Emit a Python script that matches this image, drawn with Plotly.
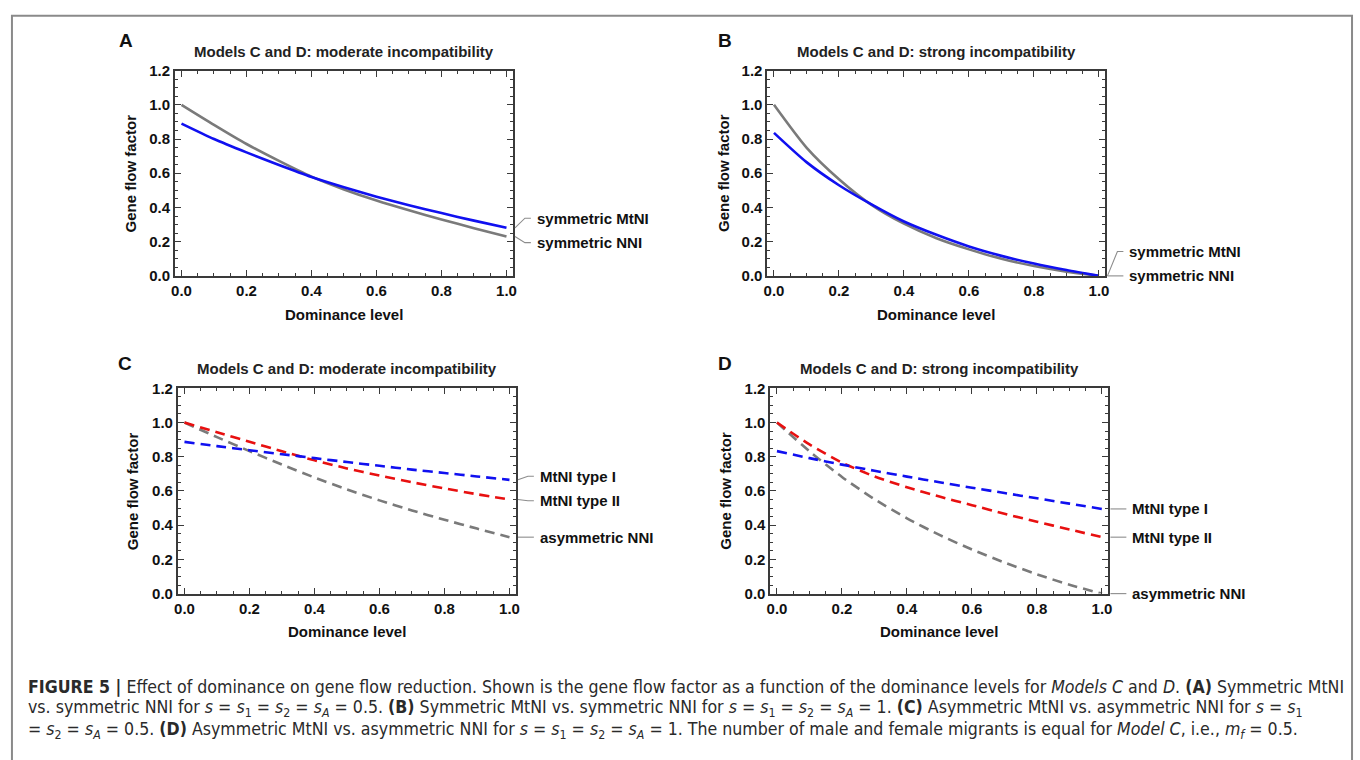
import plotly.graph_objects as go

W, H = 1360, 760

# Dominance levels (x) shared by every panel
h = [0.0, 0.1, 0.2, 0.3, 0.4, 0.5, 0.6, 0.7, 0.8, 0.9, 1.0]

# Panel A: moderate incompatibility, symmetric models
a_mtni = [0.890, 0.800, 0.722, 0.648, 0.578, 0.518, 0.463, 0.413, 0.367, 0.323, 0.281]
a_nni = [1.000, 0.883, 0.771, 0.672, 0.580, 0.505, 0.440, 0.383, 0.330, 0.279, 0.230]

# Panel B: strong incompatibility, symmetric models
b_mtni = [0.836, 0.665, 0.530, 0.418, 0.318, 0.240, 0.172, 0.117, 0.072, 0.034, 0.000]
b_nni = [1.000, 0.750, 0.565, 0.415, 0.305, 0.220, 0.155, 0.100, 0.058, 0.025, 0.000]

# Panel C: moderate incompatibility, asymmetric models
c_type1 = [0.887, 0.862, 0.838, 0.815, 0.792, 0.769, 0.747, 0.725, 0.705, 0.685, 0.665]
c_type2 = [1.000, 0.943, 0.888, 0.832, 0.779, 0.732, 0.690, 0.651, 0.615, 0.581, 0.550]
c_nni = [1.000, 0.915, 0.833, 0.754, 0.679, 0.609, 0.545, 0.486, 0.432, 0.380, 0.330]

# Panel D: strong incompatibility, asymmetric models
d_type1 = [0.833, 0.792, 0.754, 0.718, 0.684, 0.651, 0.619, 0.588, 0.557, 0.526, 0.495]
d_type2 = [1.000, 0.872, 0.766, 0.685, 0.622, 0.567, 0.517, 0.467, 0.420, 0.375, 0.330]
d_nni = [1.000, 0.832, 0.682, 0.552, 0.440, 0.343, 0.258, 0.182, 0.113, 0.052, 0.000]

x_ticks = [0.0, 0.2, 0.4, 0.6, 0.8, 1.0]
y_ticks = [0.0, 0.2, 0.4, 0.6, 0.8, 1.0, 1.2]

panel_letters = ["A", "B", "C", "D"]
panel_titles = [
    "Models C and D: moderate incompatibility",
    "Models C and D: strong incompatibility",
    "Models C and D: moderate incompatibility",
    "Models C and D: strong incompatibility",
]
x_title = "Dominance level"
y_title = "Gene flow factor"

BLUE = "#1010f0"
GRAY = "#7a7a7a"
RED = "#e81010"
FRAME = "#3a3a3a"
LEADER = "#8c8c8c"
SANS = "Liberation Sans, Arial, sans-serif"
NARROW = "Liberation Sans Narrow, DejaVu Sans Condensed, Arial Narrow, sans-serif"

XR = [-0.02, 1.02]
YR = [0.0, 1.2]

# plot frames in pixels: (left, right, top, bottom)
frames = [(172, 512, 63, 273), (768, 1108, 63, 273),
          (175, 515, 388, 598), (771, 1111, 388, 598)]
# panel letter centres in pixels
letter_pos = [(123, 32), (725, 32), (122, 363), (725, 363)]


def px(x):
    return x / W


def py(y):
    return 1 - y / H


def to_px(i, xv, yv):
    l, r, t, b = frames[i]
    X = l + (xv - XR[0]) / (XR[1] - XR[0]) * (r - l)
    Y = b - (yv - YR[0]) / (YR[1] - YR[0]) * (b - t)
    return X, Y


fig = go.Figure()

DASH = "10px,6px"
series = [
    (0, a_nni, GRAY, "solid", "symmetric NNI"),
    (0, a_mtni, BLUE, "solid", "symmetric MtNI"),
    (1, b_nni, GRAY, "solid", "symmetric NNI"),
    (1, b_mtni, BLUE, "solid", "symmetric MtNI"),
    (2, c_nni, GRAY, DASH, "asymmetric NNI"),
    (2, c_type2, RED, DASH, "MtNI type II"),
    (2, c_type1, BLUE, DASH, "MtNI type I"),
    (3, d_nni, GRAY, DASH, "asymmetric NNI"),
    (3, d_type2, RED, DASH, "MtNI type II"),
    (3, d_type1, BLUE, DASH, "MtNI type I"),
]

for i, ys, col, dash, name in series:
    sfx = "" if i == 0 else str(i + 1)
    fig.add_trace(go.Scatter(
        x=h, y=ys, mode="lines", name=name, showlegend=False,
        line=dict(color=col, width=2.6, dash=dash, shape="spline", smoothing=0.7),
        xaxis="x" + sfx, yaxis="y" + sfx, cliponaxis=False,
    ))

axis_common = dict(
    showline=True, linecolor=FRAME, linewidth=2, mirror="allticks",
    ticks="inside", ticklen=6, tickwidth=1.3, tickcolor=FRAME,
    showgrid=False, zeroline=False, tickformat=".1f",
    tickfont=dict(family=SANS, size=15, color="#111", weight="bold"),
    minor=dict(ticks="inside", ticklen=3, tickwidth=1, tickcolor=FRAME, dtick=0.05, showgrid=False),
    fixedrange=True,
)

layout = dict(
    width=W, height=H, margin=dict(l=0, r=0, t=0, b=0),
    paper_bgcolor="white", plot_bgcolor="white", showlegend=False,
)

for i, (l, r, t, b) in enumerate(frames):
    sfx = "" if i == 0 else str(i + 1)
    layout["xaxis" + sfx] = dict(axis_common, domain=[px(l), px(r)], range=XR,
                                 tickvals=x_ticks, anchor="y" + sfx)
    layout["yaxis" + sfx] = dict(axis_common, domain=[py(b), py(t)], range=YR,
                                 tickvals=y_ticks, anchor="x" + sfx)

fig.update_layout(**layout)

annotations = []
shapes = []

# panel letters, titles and axis titles
for i, (l, r, t, b) in enumerate(frames):
    lx, ly_ = letter_pos[i]
    annotations.append(dict(
        text="<b>%s</b>" % panel_letters[i], x=px(lx), y=py(ly_),
        xanchor="center", yanchor="middle",
        font=dict(family=SANS, size=19, color="#111")))
    annotations.append(dict(
        text="<b>%s</b>" % panel_titles[i], x=px((l + r) / 2), y=py(t - 20),
        xanchor="center", yanchor="middle",
        font=dict(family=SANS, size=15, color="#222")))
    annotations.append(dict(
        text="<b>%s</b>" % x_title, x=px((l + r) / 2), y=py(b + 39),
        xanchor="center", yanchor="middle",
        font=dict(family=SANS, size=15, color="#111")))
    annotations.append(dict(
        text="<b>%s</b>" % y_title, x=px(l - 45), y=py((t + b) / 2),
        xanchor="center", yanchor="middle", textangle=-90,
        font=dict(family=SANS, size=15, color="#111")))

# curve labels with leader lines: (panel, end value, label, label y px)
curve_labels = [
    (0, a_mtni[-1], "symmetric MtNI", 214),
    (0, a_nni[-1], "symmetric NNI", 239),
    (1, b_mtni[-1], "symmetric MtNI", 248),
    (1, b_nni[-1], "symmetric NNI", None),
    (2, c_type1[-1], "MtNI type I", 478),
    (2, c_type2[-1], "MtNI type II", 503),
    (2, c_nni[-1], "asymmetric NNI", None),
    (3, d_type1[-1], "MtNI type I", None),
    (3, d_type2[-1], "MtNI type II", None),
    (3, d_nni[-1], "asymmetric NNI", None),
]

for i, val, label, ly in curve_labels:
    l, r, t, b = frames[i]
    _, y_end = to_px(i, 1.0, val)
    if ly is None:
        ly = y_end
    x_start = r + 2
    if abs(ly - y_end) > 0.5:
        path = "M %f %f L %f %f L %f %f" % (
            px(x_start), py(y_end), px(r + 12), py(ly), px(r + 18), py(ly))
    else:
        path = "M %f %f L %f %f" % (px(x_start), py(y_end), px(r + 18), py(ly))
    shapes.append(dict(type="path", path=path, xref="paper", yref="paper",
                       line=dict(color=LEADER, width=1.1)))
    annotations.append(dict(
        text="<b>%s</b>" % label, x=px(r + 22), y=py(ly),
        xanchor="left", yanchor="middle",
        font=dict(family=SANS, size=15, color="#111")))

# caption below the panels
S = "<i>s</i>"
eq_half = S + " = " + S + "<sub>1</sub> = " + S + "<sub>2</sub> = " + S + "<sub><i>A</i></sub> = 0.5"
eq_one = S + " = " + S + "<sub>1</sub> = " + S + "<sub>2</sub> = " + S + "<sub><i>A</i></sub> = 1"
caption_lines = [
    "<b>FIGURE 5 |</b> Effect of dominance on gene flow reduction. Shown is the gene flow factor as a "
    "function of the dominance levels for <i>Models C</i> and <i>D</i>. <b>(A)</b> Symmetric MtNI",
    "vs. symmetric NNI for " + eq_half + ". <b>(B)</b> Symmetric MtNI vs. symmetric NNI for " + eq_one
    + ". <b>(C)</b> Asymmetric MtNI vs. asymmetric NNI for " + S + " = " + S + "<sub>1</sub>",
    "= " + S + "<sub>2</sub> = " + S + "<sub><i>A</i></sub> = 0.5. <b>(D)</b> Asymmetric MtNI vs. "
    "asymmetric NNI for " + eq_one + ". The number of male and female migrants is equal for "
    "<i>Model C</i>, i.e., <i>m<sub>f</sub></i> = 0.5.",
]
caption_y = [694, 716, 738]
for txt, yy in zip(caption_lines, caption_y):
    annotations.append(dict(
        text=txt, x=px(22), y=py(yy), xanchor="left", yanchor="middle",
        font=dict(family=NARROW, size=17.6, color="#2a2a2a")))

# outer figure border
shapes.append(dict(type="rect", xref="paper", yref="paper",
                   x0=px(8), x1=px(1356), y0=py(7), y1=-0.05,
                   line=dict(color="#8a8a8a", width=2)))

for a in annotations:
    a.setdefault("xref", "paper")
    a.setdefault("yref", "paper")
    a.setdefault("showarrow", False)

fig.update_layout(annotations=annotations, shapes=shapes)

fig.write_html("out.html")
